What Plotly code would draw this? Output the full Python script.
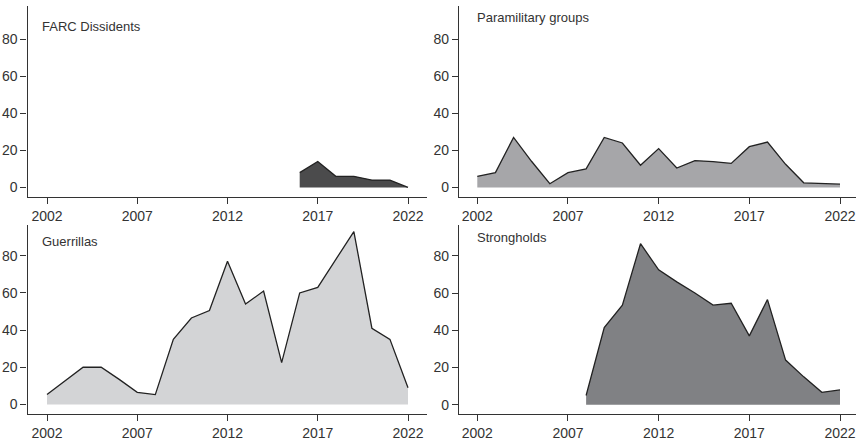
import plotly.graph_objects as go

# Yearly counts per armed-actor category
years = list(range(2002, 2023))

farc_years = list(range(2016, 2023))
farc_values = [8, 14, 6, 6, 4, 4, 0]

para_years = years
para_values = [6, 8, 27, 14, 2, 8, 10, 27, 24, 12, 21, 10.5, 14.5, 14, 13, 22, 24.5, 12.5, 2.5, 2, 1.8]

guer_years = years
guer_values = [5.3, 12.5, 20, 20, 13.5, 6.5, 5.3, 35, 46.5, 50.5, 77, 54, 61, 22.5, 60, 63, 78, 93, 41, 35, 9]

strong_years = list(range(2008, 2023))
strong_values = [5, 41.5, 53.5, 86.5, 72.5, 66, 60, 53.5, 54.5, 37, 56.5, 24, 15, 6.7, 8]

panel_titles = ["FARC Dissidents", "Paramilitary groups", "Guerrillas", "Strongholds"]
x_ticks = [2002, 2007, 2012, 2017, 2022]
y_ticks = [0, 20, 40, 60, 80]

W, H = 858, 441
FONT = "Liberation Sans, Arial, Helvetica, sans-serif"
TEXT = "#333333"
LINE = "#222222"

panels = [
    # (years, values, fill, axis suffix, x pixel span, y pixel span, y range, title pos)
    (farc_years, farc_values, "#4b4b4c", "", (27.5, 427), (6, 200), [-5.3, 98.0], (40, 27)),
    (para_years, para_values, "#a6a6a9", "2", (459, 856), (6, 200), [-5.3, 98.0], (475, 18)),
    (guer_years, guer_values, "#d3d4d6", "3", (27.5, 427), (228, 420), [-5.3, 96.6], (40, 245)),
    (strong_years, strong_values, "#808184", "4", (459, 856), (228, 420), [-5.1, 96.6], (475, 241)),
]

fig = go.Figure()
layout = dict(
    width=W, height=H,
    margin=dict(l=0, r=0, t=0, b=0),
    paper_bgcolor="white", plot_bgcolor="white",
    showlegend=False,
    font=dict(family=FONT, size=14, color=TEXT),
    annotations=[],
)

for i, (xs, ys, fill, sfx, (x0, x1), (ytop, ybot), yr, (tx, ty)) in enumerate(panels):
    fig.add_trace(go.Scatter(
        x=xs, y=ys, mode="lines", fill="tozeroy", fillcolor=fill,
        line=dict(color=LINE, width=1.3),
        xaxis="x" + sfx, yaxis="y" + sfx, hoverinfo="skip",
    ))
    # left panels: 2002 at x=47, 2022 at x=408 ; right panels: 477.3 / 840
    if x0 < 100:
        p02, p22 = 47.0, 408.0
    else:
        p02, p22 = 477.3, 840.0
    ppy = (p22 - p02) / 20.0
    xr = [2002 + (x0 - p02) / ppy, 2022 + (x1 - p22) / ppy]
    axis_common = dict(
        showline=True, linecolor=TEXT, linewidth=1.3,
        ticks="outside", ticklen=6, tickwidth=1.1, tickcolor=TEXT,
        showgrid=False, zeroline=False, fixedrange=True,
        tickfont=dict(family=FONT, size=14, color=TEXT),
    )
    layout["xaxis" + sfx] = dict(
        axis_common, domain=[x0 / W, x1 / W], range=xr,
        tickvals=x_ticks, anchor="y" + sfx,
    )
    layout["yaxis" + sfx] = dict(
        axis_common, domain=[1 - ybot / H, 1 - ytop / H], range=yr,
        tickvals=y_ticks, anchor="x" + sfx,
    )
    layout["annotations"].append(dict(
        text=panel_titles[i], x=tx / W, y=1 - ty / H, xref="paper", yref="paper",
        xanchor="left", yanchor="middle", showarrow=False,
        font=dict(family=FONT, size=13, color=TEXT),
    ))

fig.update_layout(**layout)
fig.write_html("out.html")
